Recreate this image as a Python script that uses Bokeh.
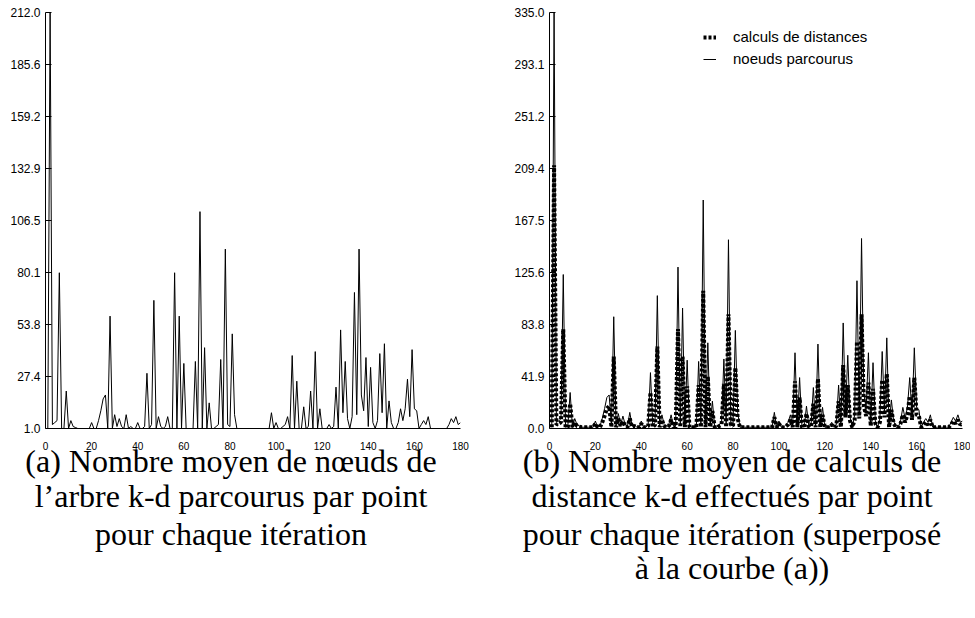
from bokeh.plotting import figure
from bokeh.models import FixedTicker, Legend, LegendItem, Title
from bokeh.layouts import row
from bokeh.embed import file_html
from bokeh.resources import INLINE

# ---------------- data ----------------
iterations = list(range(1, 181))

# (a) average number of k-d tree nodes visited per point
noeuds_a = [
    1, 212, 3, 4, 5, 80, 1, 1, 20, 1,
    5, 2, 1.5, 1, 1, 1, 1, 1, 1, 4,
    1, 1, 5, 10, 16, 18, 1, 58, 1, 8,
    2, 6, 2, 1, 8, 1, 2, 1, 1, 4,
    1, 1, 2, 29, 1, 3, 66, 1, 7, 2,
    1, 2, 7, 1, 1, 80, 1, 58, 1, 34,
    1, 1, 1, 1, 35, 1, 111, 1, 42, 1,
    14, 1, 1, 2, 3, 36, 1, 92, 3, 2,
    49, 8, 1, 1, 1, 1, 1, 1, 1, 1,
    1, 1, 1, 1, 1, 1, 1, 9, 1, 4,
    1, 1, 2, 3, 7, 1, 38, 1, 25, 1,
    1, 12, 1, 2, 20, 1, 40, 1, 11, 1,
    1, 1, 3, 1, 2, 22, 1, 51, 9, 35,
    6, 1, 7, 70, 8, 92, 18, 10, 37, 2,
    32, 4, 1, 5, 39, 9, 44, 1, 15, 4,
    1, 1, 4, 11, 5, 11, 26, 7, 41, 11,
    10, 1, 3, 5, 3, 7, 1, 1, 1, 1,
    1, 1, 1, 1, 3, 6, 4, 7, 3, 4,
]

# (b) dotted curve "calculs de distances"
calculs_b = [
    1, 212, 3, 4, 5, 80, 1, 1, 20, 1,
    5, 2, 1.5, 1, 1, 1, 1, 1, 1, 4,
    1, 1, 5, 10, 16, 18, 1, 58, 1, 8,
    2, 6, 2, 1, 8, 1, 2, 1, 1, 4,
    1, 1, 2, 29, 1, 3, 66, 1, 7, 2,
    1, 2, 7, 1, 1, 80, 1, 58, 1, 34,
    1, 1, 1, 1, 35, 1, 111, 1, 42, 1,
    14, 1, 1, 2, 3, 36, 1, 92, 3, 2,
    49, 8, 1, 1, 1, 1, 1, 1, 1, 1,
    1, 1, 1, 1, 1, 1, 1, 9, 1, 4,
    1, 1, 2, 3, 7, 1, 38, 1, 25, 1,
    1, 12, 1, 2, 20, 1, 40, 1, 11, 1,
    1, 1, 3, 1, 2, 22, 1, 51, 9, 35,
    6, 1, 7, 70, 8, 92, 18, 10, 37, 2,
    32, 4, 1, 5, 39, 9, 44, 1, 15, 4,
    1, 1, 4, 11, 5, 11, 26, 7, 41, 11,
    10, 1, 3, 5, 3, 7, 1, 1, 1, 1,
    1, 1, 1, 1, 3, 6, 4, 7, 3, 4,
]

# (b) solid curve "noeuds parcourus"
noeuds_b = [
    1, 335, 5, 6, 8, 124, 1, 2, 29, 1,
    8, 3, 2, 1, 1, 1, 1, 1, 1, 6,
    1, 2, 8, 16, 25, 27, 2, 90, 2, 12,
    3, 10, 3, 2, 13, 2, 3, 1, 1, 6,
    1, 1, 3, 45, 2, 5, 107, 2, 11, 3,
    1, 3, 11, 2, 2, 130, 2, 97, 2, 55,
    2, 1, 1, 1, 54, 2, 184, 2, 69, 2,
    22, 1, 1, 3, 5, 56, 2, 152, 5, 3,
    79, 13, 1, 1, 1, 1, 1, 1, 1, 1,
    1, 1, 1, 1, 1, 1, 1, 13, 1, 6,
    1, 1, 3, 5, 11, 2, 61, 2, 41, 2,
    1, 18, 2, 3, 33, 2, 68, 2, 17, 1,
    1, 1, 5, 1, 3, 35, 2, 85, 14, 59,
    9, 1, 11, 119, 13, 153, 28, 16, 61, 3,
    53, 6, 1, 8, 62, 14, 73, 2, 23, 6,
    1, 1, 6, 17, 8, 17, 41, 11, 65, 17,
    15, 1, 5, 8, 5, 11, 1, 1, 1, 1,
    1, 1, 1, 1, 5, 9, 6, 11, 5, 6,
]

x_ticks = [0, 20, 40, 60, 80, 100, 120, 140, 160, 180]
y_ticks_a = [1.0, 27.375, 53.75, 80.125, 106.5, 132.875, 159.25, 185.625, 212.0]
y_labels_a = ["1.0", "27.4", "53.8", "80.1", "106.5", "132.9", "159.2", "185.6", "212.0"]
y_ticks_b = [0.0, 41.875, 83.75, 125.625, 167.5, 209.375, 251.25, 293.125, 335.0]
y_labels_b = ["0.0", "41.9", "83.8", "125.6", "167.5", "209.4", "251.2", "293.1", "335.0"]

legend_labels = ["calculs de distances", "noeuds parcourus"]
caption_a = ["(a) Nombre moyen de nœuds de",
             "l’arbre k-d parcourus par point",
             "pour chaque itération"]
caption_b = ["(b) Nombre moyen de calculs de",
             "distance k-d effectués par point",
             "pour chaque itération (superposé",
             "à la courbe (a))"]

assert len(noeuds_a) == 180 and len(noeuds_b) == 180 and len(calculs_b) == 180

SANS = "Liberation Sans"
SERIF = "Liberation Serif"
CAPTION_STANDOFF = [-24, 19, -20, 13]


def style(p, yt, yl):
    p.title.visible = False
    p.grid.visible = False
    p.outline_line_color = None
    p.background_fill_color = "white"
    p.border_fill_color = "white"
    xa, ya = p.xaxis[0], p.yaxis[0]
    xa.ticker = FixedTicker(ticks=x_ticks)
    ya.ticker = FixedTicker(ticks=yt)
    ya.major_label_overrides = {t: l for t, l in zip(yt, yl)}
    for ax in (xa, ya):
        ax.axis_line_color = "black"
        ax.axis_line_width = 1
        ax.minor_tick_line_color = None
        ax.major_label_text_font = SANS
        ax.major_label_text_color = "black"
    xa.major_tick_line_color = None
    xa.major_tick_out = 0
    xa.major_tick_in = 0
    xa.major_label_text_font_size = "10px"
    xa.major_label_standoff = 13
    ya.major_tick_in = 6
    ya.major_tick_out = 0
    ya.major_tick_line_color = "black"
    ya.major_label_text_font_size = "12px"
    ya.major_label_standoff = 5


def captions(p, lines, shift):
    for i, t in enumerate(lines):
        p.add_layout(Title(text=t, align="center", standoff=CAPTION_STANDOFF[i],
                           padding=(0, shift, 0, 0),
                           text_font=SERIF, text_font_size="32px",
                           text_font_style="normal", text_color="black"), "below")


# ---------------- panel (a) ----------------
p1 = figure(width=490, height=605, x_range=(0, 180), y_range=(1, 212),
            output_backend="svg", toolbar_location=None,
            min_border_left=45, min_border_right=30, min_border_top=12, min_border_bottom=177)
style(p1, y_ticks_a, y_labels_a)
p1.line(iterations, noeuds_a, line_color="black", line_width=1)
captions(p1, caption_a, 44)

# ---------------- panel (b) ----------------
p2 = figure(width=480, height=605, x_range=(0, 180), y_range=(0, 335),
            output_backend="svg", toolbar_location=None,
            min_border_left=59, min_border_right=8, min_border_top=12, min_border_bottom=177)
style(p2, y_ticks_b, y_labels_b)
r_solid = p2.line(iterations, noeuds_b, line_color="black", line_width=1)
r_dot = p2.line(iterations, calculs_b, line_color="black", line_width=4, line_dash="3 2")
captions(p2, caption_b, 48)

legend = Legend(items=[LegendItem(label=legend_labels[0], renderers=[r_dot]),
                       LegendItem(label=legend_labels[1], renderers=[r_solid])],
                location=(154, 361), border_line_color=None, background_fill_alpha=0,
                label_text_font=SANS, label_text_font_size="15px", label_text_color="black",
                glyph_width=13, glyph_height=16, label_standoff=17, spacing=5,
                padding=8, margin=0)
p2.add_layout(legend)

layout = row(p1, p2)
open("out.html", "w").write(file_html(layout, INLINE))
